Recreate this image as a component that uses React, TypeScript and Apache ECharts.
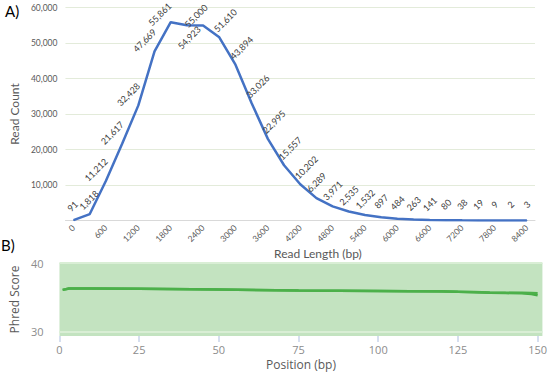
import React, { useEffect, useRef } from "react";
import * as echarts from "echarts";

const lengthCategories = [
  "0", "300", "600", "900", "1200", "1500", "1800", "2100", "2400", "2700",
  "3000", "3300", "3600", "3900", "4200", "4500", "4800", "5100", "5400", "5700",
  "6000", "6300", "6600", "6900", "7200", "7500", "7800", "8100", "8400",
];
const readCounts = [
  91, 1818, 11212, 21617, 32428, 47669, 55861, 55000, 54923, 51610,
  43894, 33026, 22995, 15557, 10202, 6289, 3971, 2535, 1532, 897,
  484, 263, 141, 80, 38, 19, 9, 2, 3,
];
const readCountTicks = [0, 10000, 20000, 30000, 40000, 50000, 60000];

const positions = [1, 3, 10, 25, 50, 75, 100, 110, 120, 125, 130, 135, 140, 145, 148, 150];
const phredUpper = [36.1, 36.3, 36.3, 36.25, 36.15, 36.02, 35.93, 35.9, 35.88, 35.83, 35.79, 35.73, 35.69, 35.67, 35.65, 35.6];
const phredLower = [36.1, 36.3, 36.3, 36.25, 36.15, 36.02, 35.93, 35.9, 35.87, 35.82, 35.75, 35.68, 35.63, 35.6, 35.48, 35.32];
const positionTicks = [0, 25, 50, 75, 100, 125, 150];
const phredTicks = [30, 40];

const FONT = "Lato, 'Open Sans', sans-serif";
const FONT_B = "'Open Sans', Lato, sans-serif";

export default function App() {
  const ref = useRef<HTMLDivElement>(null);
  useEffect(() => {
    if (!ref.current) return;
    const chart = echarts.init(ref.current, null, { renderer: "svg" });
    const peak = readCounts.indexOf(Math.max(...readCounts));
    // label placement relative to its point, by the shape of the curve
    const labelShift = (i: number): [number, number] => {
      if (i <= 1) return [-1, -14];
      if (i < peak) return [-10, -11];
      if (i === peak) return [-11, -8];
      if (i === peak + 1) return [9, -9.5];
      if (i === peak + 2) return [-14, 12];
      if (i < 15) return [6, -17];
      return [0, -16];
    };
    chart.setOption({
      animation: false,
      textStyle: { fontFamily: FONT },
      graphic: [
        { type: "text", left: 5, top: 3, style: { text: "A)", fontSize: 15, fill: "#000", fontFamily: FONT } },
        { type: "text", left: 1, top: 237, style: { text: "B)", fontSize: 15, fill: "#000", fontFamily: FONT } },
        { type: "text", left: 274, top: 247, style: { text: "Read Length (bp)", fontSize: 12, fill: "#595959", fontFamily: FONT } },
      ],
      grid: [
        { left: 62, right: 15, top: 7.5, bottom: 154.5 },
        { left: 53, right: 2, top: 263, bottom: 39, show: true, backgroundColor: "#c3e3c0", borderWidth: 0 },
      ],
      xAxis: [
        {
          type: "category",
          gridIndex: 0,
          data: lengthCategories,
          boundaryGap: true,
          axisLine: { lineStyle: { color: "#d9d9d9" } },
          axisTick: { show: false },
          axisLabel: { interval: 1, rotate: 45, fontSize: 8.5, color: "#595959", margin: 6, fontFamily: FONT },
        },
        {
          type: "value",
          gridIndex: 1,
          min: 0,
          max: 151.5,
          name: "Position (bp)",
          nameLocation: "middle",
          nameGap: 22,
          nameTextStyle: { fontSize: 12, color: "#595959", fontFamily: FONT_B },
          axisLine: { show: false },
          axisTick: { show: true, length: 6, customValues: positionTicks, lineStyle: { color: "#c8d5ea", width: 1.5 } },
          axisLabel: { customValues: positionTicks, fontSize: 11, color: "#8c8c8c", margin: 8, fontFamily: FONT_B },
          splitLine: { show: false },
        },
      ],
      yAxis: [
        {
          type: "value",
          gridIndex: 0,
          min: 0,
          max: 60000,
          interval: 10000,
          name: "Read Count",
          nameLocation: "middle",
          nameGap: 35,
          nameTextStyle: { fontSize: 12, color: "#595959", fontFamily: FONT },
          axisLine: { show: false },
          axisTick: { show: false },
          axisLabel: {
            fontSize: 8.5,
            color: "#595959",
            margin: 8,
            fontFamily: FONT,
            formatter: (v: number) => (readCountTicks.includes(v) && v !== 0 ? v.toLocaleString("en-US") : ""),
          },
          splitLine: { lineStyle: { color: "#e3ebda", width: 1 } },
        },
        {
          type: "value",
          gridIndex: 1,
          min: 29.4,
          max: 40,
          name: "Phred Score",
          nameLocation: "middle",
          nameGap: 29,
          nameTextStyle: { fontSize: 12, color: "#595959", fontFamily: FONT_B },
          axisLine: { show: false },
          axisTick: { show: false, customValues: phredTicks },
          axisLabel: { customValues: phredTicks, fontSize: 11, color: "#8c8c8c", margin: 16, fontFamily: FONT_B },
          splitLine: { show: true, lineStyle: { color: "#d9eed5", width: 2 } },
        },
      ],
      series: [
        {
          type: "line",
          xAxisIndex: 0,
          yAxisIndex: 0,
          data: readCounts,
          symbol: "circle",
          symbolSize: 1,
          showSymbol: true,
          itemStyle: { color: "#4472c4" },
          lineStyle: { color: "#4472c4", width: 2.5 },
          label: {
            show: true,
            position: "top",
            fontSize: 9,
            color: "#404040",
            fontFamily: FONT,
            formatter: (p: any) => Number(p.value).toLocaleString("en-US"),
          },
          labelLayout: (p: any) => {
            const [dx, dy] = labelShift(p.dataIndex);
            const cx = p.rect.x + p.rect.width / 2;
            const cy = p.rect.y + p.rect.height / 2;
            return { x: cx + dx, y: cy + dy, rotate: 45, align: "center", verticalAlign: "middle", hideOverlap: false };
          },
        },
        {
          type: "line",
          xAxisIndex: 1,
          yAxisIndex: 1,
          data: positions.map((x, i) => [x, phredLower[i]]),
          showSymbol: false,
          lineStyle: { color: "#45ad45", width: 2.5 },
        },
        {
          type: "line",
          xAxisIndex: 1,
          yAxisIndex: 1,
          data: positions.map((x, i) => [x, phredUpper[i]]),
          showSymbol: false,
          lineStyle: { color: "#4cb04a", width: 2.5 },
        },
      ],
    });
    return () => chart.dispose();
  }, []);
  return <div ref={ref} style={{ position: "absolute", left: 0, top: 0, width: 550, height: 375 }} />;
}
